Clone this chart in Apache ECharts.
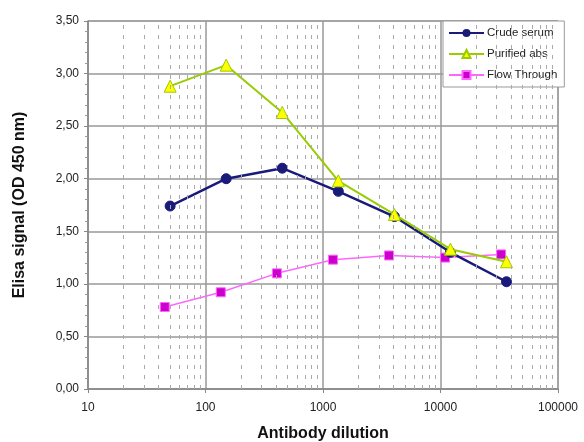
<!DOCTYPE html>
<html>
<head>
<meta charset="utf-8">
<script src="https://cdn.jsdelivr.net/npm/echarts@6/dist/echarts.min.js"></script>
<style>
  html, body { margin: 0; padding: 0; background: #fff; }
  #chart { width: 584px; height: 442px; }
</style>
</head>
<body>
<div id="chart"></div>
<script>
// dilutions (x, log scale)
const dilutionA = [50, 150, 450, 1350, 4050, 12150, 36450];
const dilutionB = [45, 135, 405, 1215, 3645, 10935, 32805];
// elisa signal
const crudeSerum = [1.74, 2.00, 2.10, 1.88, 1.64, 1.30, 1.02];
const purifiedAbs = [2.88, 3.08, 2.63, 1.98, 1.66, 1.33, 1.21];
const flowThrough = [0.78, 0.92, 1.10, 1.23, 1.27, 1.25, 1.28];
// minor vertical grid lines (2..9 per decade)
const minorX = [];
[10, 100, 1000, 10000].forEach(d => {
  for (let k = 2; k <= 9; k++) minorX.push(d * k);
});

const pairs = (xs, ys) => xs.map((x, i) => [x, ys[i]]);

const chart = echarts.init(document.getElementById('chart'));
chart.setOption({
  backgroundColor: '#fff',
  animation: false,
  grid: {
    left: 88, right: 26, top: 21, bottom: 53,
    outerBoundsMode: 'none',
    show: true, borderColor: '#999', borderWidth: 1
  },
  legend: {
    data: ['Crude serum', 'Purified abs', 'Flow Through'],
    orient: 'vertical',
    left: 443, top: 21,
    itemWidth: 35, itemHeight: 10, itemGap: 9,
    padding: [6, 7, 6, 5],
    backgroundColor: '#fff',
    borderColor: '#999', borderWidth: 1,
    textStyle: { fontFamily: 'Liberation Sans', fontSize: 11.5, color: '#222', padding: [0, 0, 0, -2] }
  },
  xAxis: {
    type: 'log', logBase: 10, min: 10, max: 100000,
    name: 'Antibody dilution', nameLocation: 'middle', nameGap: 37,
    nameTextStyle: { fontFamily: 'Liberation Sans', fontSize: 16, fontWeight: 'bold', color: '#111' },
    axisLine: { lineStyle: { color: '#888', width: 1.5 } },
    axisTick: { show: true, inside: false, length: 4, lineStyle: { color: '#888' } },
    axisLabel: {
      fontFamily: 'Liberation Sans', fontSize: 12, color: '#222', margin: 13,
      formatter: v => String(Math.round(v))
    },
    splitLine: { show: true, lineStyle: { color: '#999', width: 1.5 } }
  },
  yAxis: {
    type: 'value', min: 0, max: 3.5, interval: 0.5,
    name: 'Elisa signal (OD 450 nm)', nameLocation: 'middle', nameGap: 60,
    nameTextStyle: { fontFamily: 'Liberation Sans', fontSize: 16, fontWeight: 'bold', color: '#111' },
    axisLine: { show: true, lineStyle: { color: '#888', width: 1.5 } },
    axisTick: { show: true, length: 4, lineStyle: { color: '#888' } },
    minorTick: { show: true, splitNumber: 5, length: 3, lineStyle: { color: '#999' } },
    axisLabel: {
      fontFamily: 'Liberation Sans', fontSize: 12, color: '#222', margin: 9,
      formatter: v => v.toFixed(2).replace('.', ',')
    },
    splitLine: { show: true, lineStyle: { color: '#999', width: 1.5 } }
  },
  series: [
    {
      name: 'grid-minor', type: 'line', data: [], silent: true, z: 1,
      markLine: {
        silent: true, symbol: 'none', label: { show: false },
        lineStyle: { color: '#aaa', width: 1, type: [4, 6] },
        data: minorX.map(x => ({ xAxis: x }))
      }
    },
    {
      name: 'Crude serum', type: 'line', z: 3,
      data: pairs(dilutionA, crudeSerum),
      symbol: 'circle', symbolSize: 10,
      lineStyle: { color: '#1a1a7a', width: 2.5 },
      itemStyle: { color: '#1a1a7a', borderColor: '#1a1a7a' }
    },
    {
      name: 'Purified abs', type: 'line', z: 4,
      data: pairs(dilutionA, purifiedAbs),
      symbol: 'triangle', symbolSize: 12,
      lineStyle: { color: '#99cc00', width: 2 },
      itemStyle: { color: '#ffff00', borderColor: '#99cc00', borderWidth: 1 }
    },
    {
      name: 'Flow Through', type: 'line', z: 2,
      data: pairs(dilutionB, flowThrough),
      symbol: 'rect', symbolSize: 9,
      lineStyle: { color: '#ff66ff', width: 1.5 },
      itemStyle: { color: '#cc00cc', borderColor: '#ff66ff', borderWidth: 1 }
    }
  ]
});
</script>
</body>
</html>
